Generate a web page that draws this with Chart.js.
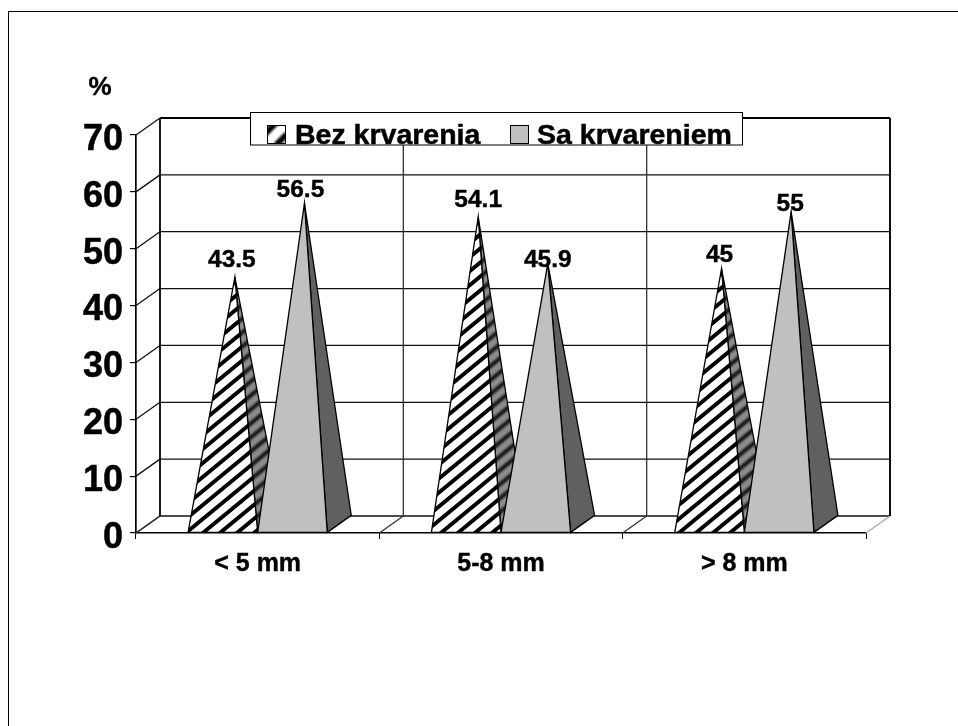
<!DOCTYPE html>
<html lang="en">
<head>
    <meta charset="UTF-8">
    <script src="https://cdn.jsdelivr.net/npm/chart.js"></script>
    <title>Krvarenje</title>
    <style>
        html, body { margin: 0; padding: 0; background: #fff; overflow: hidden; }
        canvas { display: block; }
    </style>
</head>
<body>
    <canvas id="chart" width="958" height="726"></canvas>
    <script>
        const categories = ['< 5 mm', '5-8 mm', '> 8 mm'];
        const bezKrvarenja = [43.5, 54.1, 45];
        const saKrvarenjem = [56.5, 45.9, 55];
        const seriesNames = ['Bez krvarenja', 'Sa krvarenjem'];
        const valueLabels = [['43.5', '54.1', '45'], ['56.5', '45.9', '55']];
        const yTicks = [0, 10, 20, 30, 40, 50, 60, 70];

        const FONT = '"Liberation Sans", Arial, sans-serif';
        // 3D depth of the floor, in pixels
        const DX = 24, DY = 17;

        function hatch(ctx, bg, fg, blur) {
            const w = 17, h = 14;
            const c = document.createElement('canvas');
            c.width = w;
            c.height = h;
            const g = c.getContext('2d');
            // paint a 3x3 block so the blur wraps around the tile edges
            const big = document.createElement('canvas');
            big.width = w * 3;
            big.height = h * 3;
            const b = big.getContext('2d');
            b.fillStyle = bg;
            b.fillRect(0, 0, w * 3, h * 3);
            b.strokeStyle = fg;
            b.lineWidth = 4;
            b.lineCap = 'square';
            for (let i = -3; i < 6; i++) {
                b.beginPath();
                b.moveTo(i * w, h * 3);
                b.lineTo(i * w + w * 3, 0);
                b.stroke();
            }
            g.filter = 'blur(' + blur + 'px)';
            g.drawImage(big, -w, -h);
            return ctx.createPattern(c, 'repeat');
        }

        function line(ctx, x1, y1, x2, y2) {
            ctx.beginPath();
            ctx.moveTo(x1, y1);
            ctx.lineTo(x2, y2);
            ctx.stroke();
        }

        function poly(ctx, pts, fill) {
            ctx.beginPath();
            pts.forEach((p, i) => i ? ctx.lineTo(p[0], p[1]) : ctx.moveTo(p[0], p[1]));
            ctx.closePath();
            ctx.fillStyle = fill;
            ctx.fill();
            ctx.strokeStyle = '#000';
            ctx.lineWidth = 1.3;
            ctx.stroke();
        }

        function boldText(ctx, text, x, y, sw) {
            ctx.fillText(text, x, y);
            ctx.lineWidth = sw;
            ctx.strokeStyle = '#000';
            ctx.strokeText(text, x, y);
        }

        const frameAndWalls = {
            id: 'frameAndWalls',
            beforeDatasetsDraw(chart) {
                const { ctx, scales: { x, y } } = chart;
                ctx.save();
                // slide frame, runs off the right and bottom of the page
                ctx.strokeStyle = '#000';
                ctx.lineWidth = 1;
                ctx.strokeRect(8.5, 11.5, 1500, 1500);

                ctx.strokeStyle = '#111';
                ctx.lineWidth = 1.3;
                const right = x.right + DX, left = x.left + DX;
                yTicks.forEach(v => {
                    const py = y.getPixelForValue(v);
                    line(ctx, x.left, py, left, py - DY);
                    line(ctx, left, py - DY, right, py - DY);
                });
                const step = x.width / categories.length;
                ctx.strokeStyle = '#333';
                for (let i = 0; i <= categories.length; i++) {
                    const px = x.left + i * step;
                    if (i < categories.length) line(ctx, px, y.bottom, px + DX, y.bottom - DY);
                    if (i > 0) line(ctx, px + DX, y.top - DY, px + DX, y.bottom - DY);
                }
                ctx.strokeStyle = '#aaa';
                line(ctx, x.right, y.bottom, right, y.bottom - DY);
                ctx.strokeStyle = '#000';
                ctx.lineWidth = 1.8;
                line(ctx, left, y.top - DY, left, y.bottom - DY);
                line(ctx, left, y.top - DY, right, y.top - DY);
                line(ctx, right, y.top - DY, right, y.bottom - DY);
                ctx.restore();
            }
        };

        const pyramids = {
            id: 'pyramids',
            afterDatasetsDraw(chart, args, opts) {
                const { ctx } = chart;
                const front = [hatch(ctx, '#fff', '#000', 0.7), '#c0c0c0'];
                const side = [hatch(ctx, '#8c8c8c', '#111', 0.8), '#606060'];
                ctx.save();
                chart.data.datasets.forEach((ds, d) => {
                    chart.getDatasetMeta(d).data.forEach(bar => {
                        const x0 = bar.x - bar.width / 2, x1 = bar.x + bar.width / 2;
                        const apex = [bar.x + DX / 2, bar.y - DY / 2];
                        poly(ctx, [[x1, bar.base], [x1 + DX, bar.base - DY], apex], side[d]);
                        poly(ctx, [[x0, bar.base], [x1, bar.base], apex], front[d]);
                    });
                });
                // value labels sit by hand in the original, so each has its own nudge
                ctx.fillStyle = '#000';
                ctx.font = 'bold 24.5px ' + FONT;
                ctx.textAlign = 'center';
                ctx.textBaseline = 'alphabetic';
                chart.data.datasets.forEach((ds, d) => {
                    chart.getDatasetMeta(d).data.forEach((bar, i) => {
                        const n = opts.nudge[d][i];
                        boldText(ctx, valueLabels[d][i], bar.x + DX / 2 + n[0], bar.y - DY / 2 + n[1], 0.4);
                    });
                });
                ctx.font = 'bold 26px ' + FONT;
                boldText(ctx, '%', 100, 95, 0.4);
                ctx.restore();
            }
        };

        const boxLegend = {
            id: 'boxLegend',
            afterDraw(chart) {
                const { ctx } = chart;
                const bx = 250.5, by = 112.5, bw = 492, bh = 32.5;
                ctx.save();
                ctx.fillStyle = '#fff';
                ctx.fillRect(bx, by, bw, bh);
                ctx.save();
                ctx.beginPath();
                ctx.rect(bx, by, bw, bh);
                ctx.clip();
                ctx.fillStyle = '#000';
                ctx.font = 'bold 28.5px ' + FONT;
                ctx.textAlign = 'left';
                ctx.textBaseline = 'alphabetic';
                boldText(ctx, seriesNames[0], 295, 143.5, 0.5);
                boldText(ctx, seriesNames[1], 537, 143.5, 0.5);
                ctx.restore();
                ctx.strokeStyle = '#000';
                ctx.lineWidth = 1;
                ctx.strokeRect(bx, by, bw, bh);
                // swatches
                const c = document.createElement('canvas');
                c.width = c.height = 18;
                const g = c.getContext('2d');
                g.fillStyle = '#fff';
                g.fillRect(0, 0, 18, 18);
                g.filter = 'blur(1.2px)';
                g.strokeStyle = '#000';
                g.lineWidth = 6;
                g.beginPath(); g.moveTo(-2, 9); g.lineTo(9, -2); g.stroke();
                g.beginPath(); g.moveTo(9, 20); g.lineTo(20, 9); g.stroke();
                ctx.drawImage(c, 267, 125);
                ctx.strokeRect(267.5, 125.5, 18, 18);
                ctx.fillStyle = '#c0c0c0';
                ctx.fillRect(510.5, 125.5, 18, 18);
                ctx.strokeRect(510.5, 125.5, 18, 18);
                ctx.restore();
            }
        };

        new Chart(document.getElementById('chart').getContext('2d'), {
            type: 'bar',
            data: {
                labels: categories,
                datasets: [
                    { label: seriesNames[0], data: bezKrvarenja, backgroundColor: 'transparent', borderWidth: 0 },
                    { label: seriesNames[1], data: saKrvarenjem, backgroundColor: 'transparent', borderWidth: 0 }
                ]
            },
            plugins: [frameAndWalls, pyramids, boxLegend],
            options: {
                responsive: false,
                animation: false,
                layout: { padding: { left: 0, top: 135, right: 92, bottom: 0 } },
                datasets: { bar: { categoryPercentage: 0.572, barPercentage: 1 } },
                scales: {
                    x: {
                        afterFit: s => { s.height = 193; },
                        grid: { drawOnChartArea: false, color: '#000', lineWidth: 1, tickLength: 6 },
                        border: { color: '#000', width: 1.4 },
                        ticks: {
                            color: '#000',
                            font: { family: FONT, weight: 'bold', size: 25 },
                            padding: 10,
                            maxRotation: 0,
                            textStrokeColor: '#000',
                            textStrokeWidth: 0.4
                        }
                    },
                    y: {
                        min: 0,
                        max: 70,
                        afterFit: s => { s.width = 136; },
                        afterBuildTicks: s => { s.ticks = yTicks.map(v => ({ value: v })); },
                        grid: { drawOnChartArea: false, color: '#000', lineWidth: 1.2, tickLength: 6 },
                        border: { color: '#000', width: 1.7 },
                        ticks: {
                            color: '#000',
                            // empty first line pushes the digits down a few pixels from the tick
                            callback: v => ['', String(v)],
                            font: { family: FONT, weight: 'bold', size: 36, lineHeight: '10px' },
                            padding: 7,
                            textStrokeColor: '#000',
                            textStrokeWidth: 0.5
                        }
                    }
                },
                plugins: {
                    legend: { display: false },
                    tooltip: { enabled: false },
                    pyramids: {
                        nudge: [
                            [[-3, -10], [0, -10], [-2, -7]],
                            [[-4, -6], [0, 3], [-1, -1]]
                        ]
                    }
                }
            }
        });
    </script>
</body>
</html>
